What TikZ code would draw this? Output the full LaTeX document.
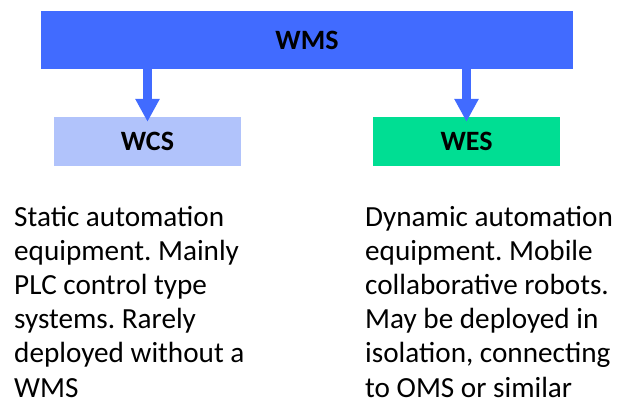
\documentclass[tikz,border=0pt]{standalone}
\usepackage{fontspec}
\setmainfont{Carlito}
\usetikzlibrary{arrows.meta}
\definecolor{wmsblue}{HTML}{416BFF}
\definecolor{wcsblue}{HTML}{B1C3FB}
\definecolor{wesgreen}{HTML}{00DE93}
\frenchspacing
\begin{document}
\begin{tikzpicture}[x=1pt,y=-1pt,
  box/.style={minimum width=#1, minimum height=49pt, inner sep=0pt, draw=none,
    font=\fontsize{28}{30}\selectfont\bfseries, text depth=0pt},
  arr/.style={draw=wmsblue, line width=9pt, -{Triangle[width=23pt,length=23pt]}},
  body/.style={anchor=base west, align=left, inner sep=0pt,
    font=\fontsize{29.2}{34.2}\selectfont}]
\useasboundingbox (0,0) rectangle (619,402);
\node[box=532pt, minimum height=58pt, fill=wmsblue] (wms) at (307,40) {WMS};
\node[box=187pt, fill=wcsblue] (wcs) at (147.5,141.5) {WCS};
\node[box=187pt, fill=wesgreen] (wes) at (466.5,141.5) {WES};
\draw[arr] (wms.south -| wcs.north) -- ([yshift=-5pt]wcs.north);
\draw[arr] (wms.south -| wes.north) -- ([yshift=-5pt]wes.north);
\node[body] (t1) at (14,397) {Static automation\\equipment. Mainly\\PLC control type\\systems. Rarely\\deployed without a\\WMS};
\node[body] (t2) at (365,397) {Dynamic automation\\equipment. Mobile\\collaborative robots.\\May be deployed in\\isolation, connecting\\to OMS or similar};
\end{tikzpicture}
\end{document}
